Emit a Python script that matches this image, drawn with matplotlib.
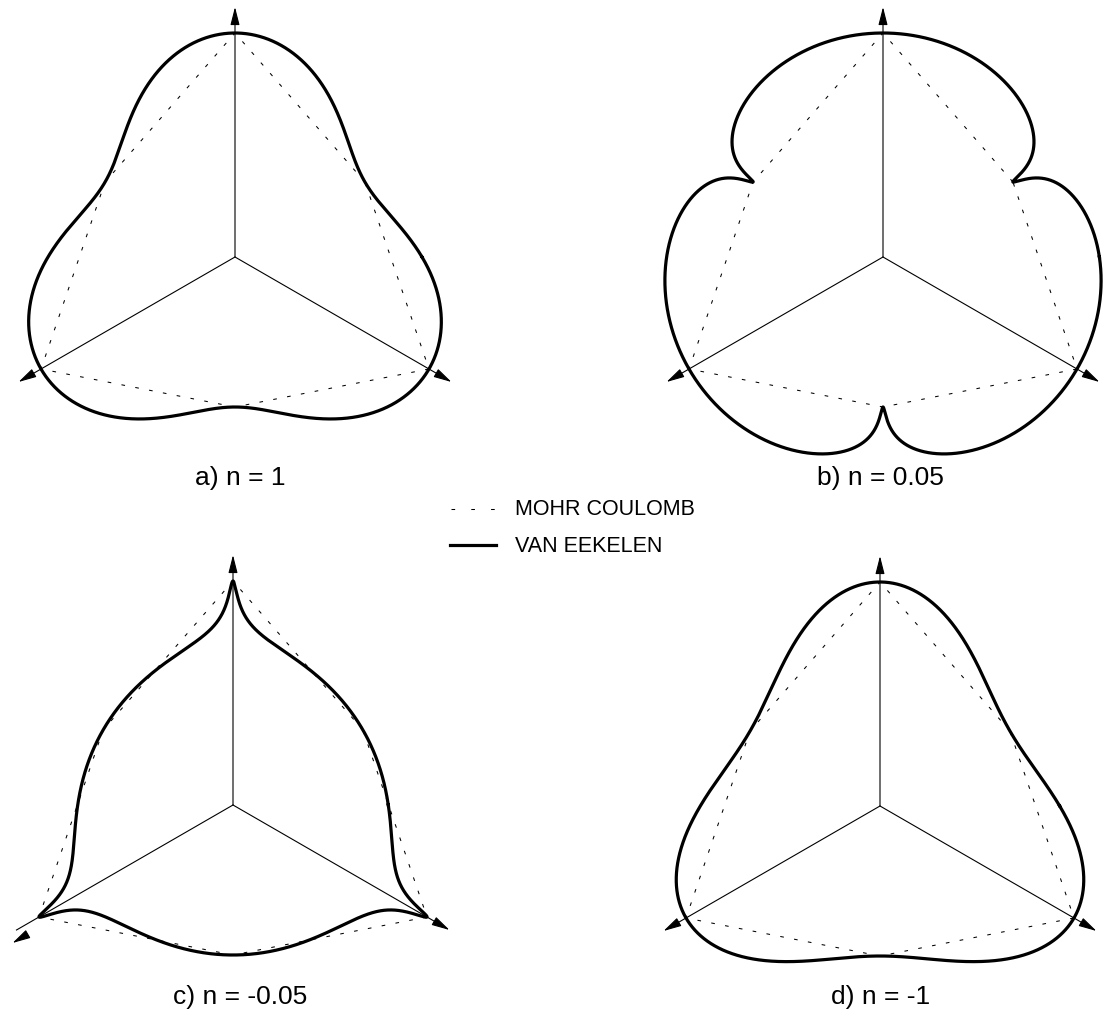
import numpy as np
import matplotlib.pyplot as plt

# exponente n de Van Eekelen en cada panel
n_values = [1, 0.05, -0.05, -1]
panel_labels = ['a) n = 1', 'b) n = 0.05', 'c) n = -0.05', 'd) n = -1']

# radios de Mohr-Coulomb en el plano desviador (compresion / traccion), en px
r_comp = 224
r_tens = 150
comp_angles = [90, 210, 330]
tens_angles = [30, 150, 270]

legend_labels = ['MOHR COULOMB', 'VAN EEKELEN']

# centro de cada panel en la figura (px)
centers = [(235, 257), (883, 257), (233, 805), (880, 806)]
label_pos = [(240, 485), (880, 485), (240, 1004), (881, 1004)]
axis_len = 250
# en el panel c la punta de flecha del eje de 210 grados queda desplazada
head_offset = {(2, 210): (-4, 13)}

ARROW = '-|>,head_length=1.1,head_width=0.28'


def van_eekelen(n, phi):
    # r = a (1 + b cos 3(phi - 90))^n, ajustado a r_comp y r_tens
    k = r_tens / r_comp
    q = k ** (1.0 / n)
    b = (1 - q) / (1 + q)
    a = r_comp / (1 + b) ** n
    return a * (1 + b * np.cos(3 * (phi - np.pi / 2))) ** n


def mohr_coulomb():
    # hexagono: vertices de traccion y compresion alternados
    angs = np.array(sorted(tens_angles + comp_angles) + [min(tens_angles + comp_angles)])
    rads = np.array([r_comp if a in comp_angles else r_tens for a in angs])
    return np.radians(angs), rads


fig = plt.figure(figsize=(11.06, 10.14), dpi=100)
ax = fig.add_axes([0, 0, 1, 1])
ax.set_xlim(0, 1106)
ax.set_ylim(1014, 0)
ax.axis('off')

phi = np.linspace(0, 2 * np.pi, 36001)
mc_ang, mc_r = mohr_coulomb()

for i, ((cx, cy), n, lab) in enumerate(zip(centers, n_values, panel_labels)):
    # ejes de compresion con flecha
    for ang in comp_angles:
        a = np.radians(ang)
        d = np.array([np.cos(a), -np.sin(a)])
        tip = np.array([cx, cy]) + axis_len * d
        if (i, ang) in head_offset:
            off = np.array(head_offset[(i, ang)])
            ax.plot([cx, tip[0]], [cy, tip[1]], color='black', lw=0.8)
            ax.annotate('', xy=tip + off, xytext=tip + off - 15 * d,
                        arrowprops=dict(arrowstyle=ARROW, mutation_scale=10, lw=0.8,
                                        color='black', shrinkA=0, shrinkB=0))
        else:
            ax.annotate('', xy=tip, xytext=(cx, cy),
                        arrowprops=dict(arrowstyle=ARROW, mutation_scale=10, lw=0.8,
                                        color='black', shrinkA=0, shrinkB=0))
    # Mohr-Coulomb
    ax.plot(cx + mc_r * np.cos(mc_ang), cy - mc_r * np.sin(mc_ang),
            color='black', lw=0.75, linestyle=(0, (3.5, 10)))
    # Van Eekelen
    r = van_eekelen(n, phi)
    ax.plot(cx + r * np.cos(phi), cy - r * np.sin(phi), color='black', lw=2.3,
            solid_joinstyle='round')
    ax.text(label_pos[i][0], label_pos[i][1], lab, ha='center', va='baseline',
            fontsize=19, family='Liberation Sans')

# leyenda
ax.plot([451, 496], [509, 509], color='black', lw=0.75, linestyle=(0, (3.5, 15.5)))
ax.plot([450, 496], [545, 545], color='black', lw=2.3)
ax.text(515, 515, legend_labels[0], va='baseline', fontsize=15.5, family='Liberation Sans')
ax.text(515, 552, legend_labels[1], va='baseline', fontsize=15.5, family='Liberation Sans')

fig.savefig('out.png', dpi=100)
